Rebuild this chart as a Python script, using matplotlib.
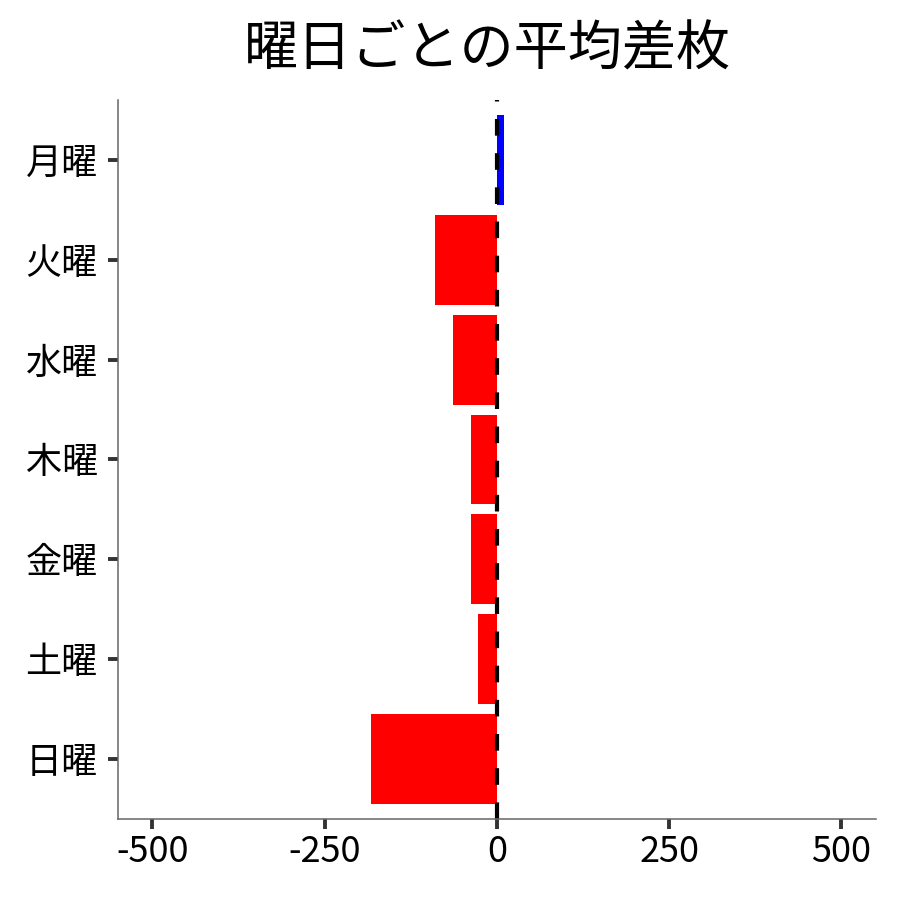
import matplotlib
matplotlib.use('Agg')
import matplotlib.pyplot as plt

plt.rcParams['font.family'] = ['Noto Sans CJK JP', 'DejaVu Sans']
plt.rcParams['axes.unicode_minus'] = False

days = ['月曜', '火曜', '水曜', '木曜', '金曜', '土曜', '日曜']
avg_diff = [10.5, -89, -63, -38, -38, -28, -183]
colors = ['blue' if v > 0 else 'red' for v in avg_diff]

fig = plt.figure(figsize=(9, 9), dpi=100)
ax = fig.add_axes([0.131, 0.09, 0.842, 0.799])

ax.barh(range(len(days)), avg_diff, height=0.9, color=colors)
ax.axvline(0, color='black', linestyle=(0, (4, 4.2)), linewidth=3)

ax.set_yticks(range(len(days)))
ax.set_yticklabels(days)
ax.set_ylim(6.6, -0.6)
ax.set_xlim(-550, 550)
ax.set_xticks([-500, -250, 0, 250, 500])

ax.tick_params(axis='both', labelsize=26, length=7.5, width=2.8, color='#333333')
ax.tick_params(axis='y', pad=7)
for side in ['top', 'right']:
    ax.spines[side].set_visible(False)
for side in ['left', 'bottom']:
    ax.spines[side].set_color('#666666')
    ax.spines[side].set_linewidth(1.1)

fig.suptitle('曜日ごとの平均差枚', fontsize=39, x=0.542, y=0.975)

fig.savefig('out.png', dpi=100)
